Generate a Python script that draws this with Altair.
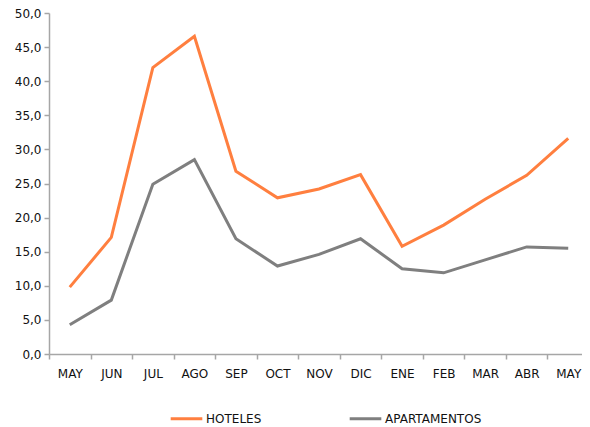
import altair as alt
import pandas as pd

months = ["MAY", "JUN", "JUL", "AGO", "SEP", "OCT", "NOV", "DIC", "ENE", "FEB", "MAR", "ABR", "MAY "]
hoteles = [9.8, 17.1, 42.0, 46.6, 26.8, 22.9, 24.2, 26.3, 15.8, 18.9, 22.7, 26.2, 31.6]
apartamentos = [4.3, 7.9, 24.9, 28.5, 16.9, 12.9, 14.6, 16.9, 12.5, 11.9, 13.8, 15.7, 15.5]
series = ["HOTELES", "APARTAMENTOS"]
colors = ["#FF7F3F", "#7F7F7F"]

rows = []
for i, m in enumerate(months):
    rows.append({"mes": m, "serie": series[0], "valor": hoteles[i], "orden": i})
    rows.append({"mes": m, "serie": series[1], "valor": apartamentos[i], "orden": i})
df = pd.DataFrame(rows)

W = 533          # visible plot width inside the page
XR = 540         # x range (axis runs to the page edge as in the reference)
H = 341
half = XR / 13 / 2

chart = alt.Chart(df).mark_line(strokeWidth=3).encode(
    x=alt.X("mes:N", sort=months,
            scale=alt.Scale(type="point", padding=0.5, range=[0, XR]),
            axis=alt.Axis(title=None, labelAngle=0, tickOffset=-half, labelOffset=half,
                          labelExpr="trim(datum.label)",
                          domainColor="#A6A6A6", tickColor="#A6A6A6", tickSize=5,
                          domainWidth=1.5, tickWidth=1.5,
                          labelPadding=9, labelFontSize=12, labelColor="#111111",
                          grid=False)),
    y=alt.Y("valor:Q", scale=alt.Scale(domain=[0, 50], nice=False),
            axis=alt.Axis(title=None, values=[0, 5, 10, 15, 20, 25, 30, 35, 40, 45, 50],
                          labelExpr="replace(format(datum.value, '.1f'), '.', ',')",
                          domainColor="#A6A6A6", tickColor="#A6A6A6", tickSize=5,
                          domainWidth=1.5, tickWidth=1.5,
                          labelPadding=3, labelFontSize=12, labelColor="#111111",
                          grid=False)),
    color=alt.Color("serie:N", sort=series,
                    scale=alt.Scale(domain=series, range=colors),
                    legend=alt.Legend(title=None, orient="none", legendX=120, legendY=388,
                                      direction="horizontal", symbolType="stroke",
                                      symbolSize=1000, symbolStrokeWidth=3,
                                      labelFontSize=12, labelColor="#111111",
                                      columnPadding=81, labelOffset=2)),
    order="orden:Q",
).properties(
    width=W, height=H,
    autosize=alt.AutoSizeParams(type="none"),
    padding={"left": 41, "top": 5, "right": 0, "bottom": 72},
).configure(font="DejaVu Sans").configure_view(
    stroke="transparent", strokeWidth=0
).configure_axis(grid=False)

chart.save("out.html", embed_options={"renderer": "svg", "actions": False})
